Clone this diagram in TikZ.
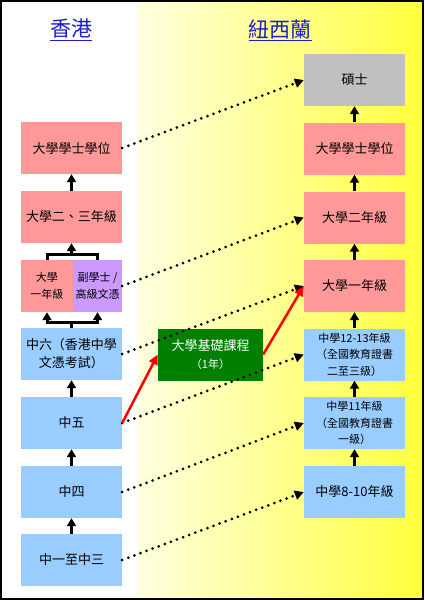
\documentclass[tikz,border=0pt]{standalone}
\usepackage{fontspec}
\newfontfamily\cjk{Noto Sans CJK TC}
\usetikzlibrary{arrows.meta}
\definecolor{stagePink}{RGB}{255,153,153}
\definecolor{stagePurple}{RGB}{204,153,255}
\definecolor{stageBlue}{RGB}{153,204,255}
\definecolor{stageGrey}{RGB}{192,192,192}
\definecolor{stageGreen}{RGB}{0,128,0}
\definecolor{headBlue}{RGB}{30,30,200}
\definecolor{bgLight}{RGB}{255,255,224}
\definecolor{bgYellow}{RGB}{255,255,60}
\tikzset{
  stage/.style={rectangle, minimum width=101pt, minimum height=52pt, inner sep=2pt,
    align=center, font=\cjk\fontsize{13}{18}\selectfont},
  smallstage/.style={stage, font=\cjk\fontsize{11}{16.5}\selectfont},
  upstep/.style={line width=3pt, -{Triangle[width=9pt,length=8pt]}},
  dotlink/.style={line width=3pt, line cap=round, dash pattern=on 0pt off 6.5pt,
    -{Triangle[width=9pt,length=9pt]}},
  redlink/.style={line width=2.5pt, red, -{Triangle[width=9pt,length=10pt]}},
  heading/.style={font=\cjk\fontsize{21}{24}\selectfont, text=headBlue},
}
\begin{document}
\begin{tikzpicture}
% page measured in pixels, y running down
\begin{scope}[x=1pt, y=-1pt]
  \useasboundingbox (0,0) rectangle (424,600);
  % Background
  \fill[white] (0,0) rectangle (137,600);
  \shade[left color=bgLight, right color=bgYellow] (137,0) rectangle (424,600);
  \draw[line width=2pt] (1,1) rectangle (423,599);
  % Headings
  \node[heading] (hkHead) at (71,30) {\underline{香港}};
  \node[heading] (nzHead) at (280,30) {\underline{紐西蘭}};
  % Hong Kong column
  \node[stage, fill=stagePink] (hkDegree) at (71.5,148) {大學學士學位};
  \node[stage, fill=stagePink] (hkYear23) at (71.5,217) {大學二、三年級};
  \node[smallstage, fill=stagePink, minimum width=52pt] (hkYear1) at (47,286) {大學\\一年級};
  \node[smallstage, fill=stagePurple, minimum width=49pt] (hkAssoc) at (97.5,286) {副學士 /\\高級文憑};
  \node[stage, fill=stageBlue] (hkF6) at (71.5,354) {中六（香港中學\\文憑考試）};
  \node[stage, fill=stageBlue] (hkF5) at (71.5,423) {中五};
  \node[stage, fill=stageBlue] (hkF4) at (71.5,492) {中四};
  \node[stage, fill=stageBlue] (hkF13) at (71.5,560) {中一至中三};
  % New Zealand column
  \node[stage, fill=stageGrey] (nzMaster) at (354.5,80) {碩士};
  \node[stage, fill=stagePink] (nzDegree) at (354.5,148.5) {大學學士學位};
  \node[stage, fill=stagePink] (nzYear2) at (354.5,217.5) {大學二年級};
  \node[stage, fill=stagePink] (nzYear1) at (354.5,286) {大學一年級};
  \node[smallstage, fill=stageBlue] (nzY1213) at (354.5,354.5) {中學12-13年級\\（全國教育證書\\二至三級）};
  \node[smallstage, fill=stageBlue] (nzY11) at (354.5,423) {中學11年級\\（全國教育證書\\一級）};
  \node[stage, fill=stageBlue] (nzY810) at (354.5,492) {中學8-10年級};
  % Foundation course
  \node[stage, fill=stageGreen, text=white, minimum width=105pt] (found) at (210.5,354.5)
    {大學基礎課程\\{\fontsize{11}{16}\selectfont（1年）}};
  % Steps up, Hong Kong
  \draw[upstep] (hkF13) -- (hkF4);
  \draw[upstep] (hkF4) -- (hkF5);
  \draw[upstep] (hkF5) -- (hkF6);
  \coordinate (splitLow) at (71.5,322);
  \coordinate (splitHigh) at (71.5,254);
  \draw[line width=3pt] (hkF6.north) -- (splitLow);
  \draw[upstep] (splitLow) -| (hkYear1.south);
  \draw[upstep] (splitLow) -| (hkAssoc.south);
  \draw[line width=3pt] (hkYear1.north) |- (splitHigh) -| (hkAssoc.north);
  \draw[upstep] (splitHigh) -- (hkYear23.south);
  \draw[upstep] (hkYear23) -- (hkDegree);
  % Steps up, New Zealand
  \draw[upstep] (nzY810) -- (nzY11);
  \draw[upstep] (nzY11) -- (nzY1213);
  \draw[upstep] (nzY1213) -- (nzYear1);
  \draw[upstep] (nzYear1) -- (nzYear2);
  \draw[upstep] (nzYear2) -- (nzDegree);
  \draw[upstep] (nzDegree) -- (nzMaster);
  % Equivalent stages
  \draw[dotlink] (hkDegree.east) -- (nzMaster.west);
  \draw[dotlink] (hkAssoc.east) -- (nzYear2.west);
  \draw[dotlink] (hkF6.east) -- (nzYear1.west);
  \draw[dotlink] (hkF5.east) -- (nzY1213.west);
  \draw[dotlink] (hkF4.east) -- (nzY11.west);
  \draw[dotlink] (hkF13.east) -- (nzY810.west);
  % Route through the foundation course
  \draw[redlink] (hkF5.east) -- (found.west);
  \draw[redlink] (found.east) -- (nzYear1.west);
\end{scope}
\end{tikzpicture}
\end{document}
